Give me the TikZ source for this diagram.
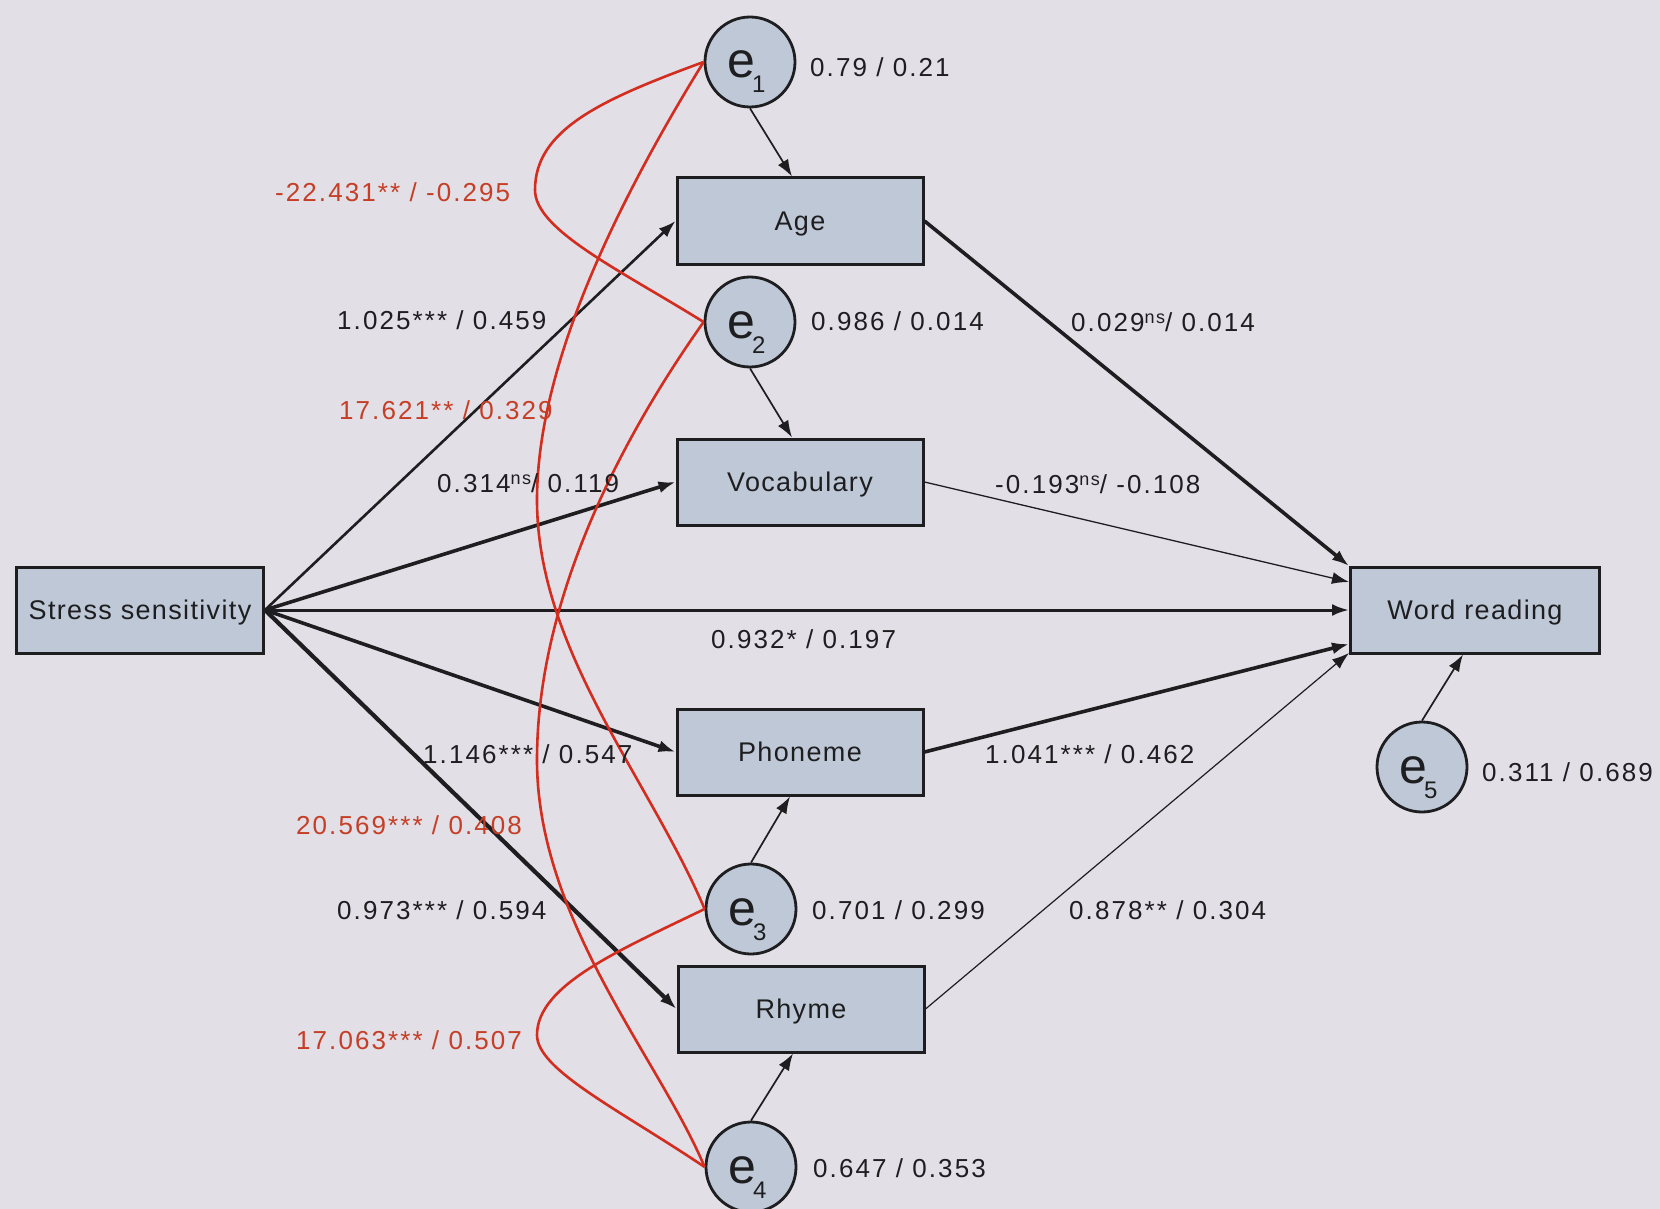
\documentclass[tikz,border=0pt]{standalone}
\usepackage{fontspec}
\setmainfont{Liberation Sans}[LetterSpace=5]
\newfontfamily\lblfont{Liberation Sans}[LetterSpace=8]
\usetikzlibrary{arrows.meta}
\definecolor{bg}{RGB}{226,223,231}
\definecolor{boxfill}{RGB}{190,200,214}
\definecolor{ink}{RGB}{30,30,32}
\definecolor{covred}{RGB}{210,45,30}
\definecolor{labred}{RGB}{198,62,38}
\newcommand\sps[1]{\raisebox{8pt}{\fontsize{18}{18}\selectfont #1}}
\newcommand\esub[1]{\kern-3pt\raisebox{-15pt}{\fontsize{24}{24}\selectfont #1}}
\begin{document}
\begin{tikzpicture}[x=1pt,y=-1pt,
  var/.style={draw=ink, line width=3pt, fill=boxfill, minimum width=246pt, minimum height=86pt, inner sep=0pt, text height=19pt, text depth=0pt, font=\fontsize{27}{30}\selectfont, text=ink},
  err/.style={draw=ink, line width=2.8pt, fill=boxfill, circle, minimum size=90pt, inner sep=0pt},
  etext/.style={anchor=base west, inner sep=0pt, text=ink, font=\fontsize{50}{50}\selectfont},
  lab/.style={anchor=west, inner sep=0pt, text height=18pt, text depth=0pt, text=ink, font=\lblfont\fontsize{26}{30}\selectfont},
  rlab/.style={lab, text=labred},
  reg/.style={draw=ink, -{Latex[length=17pt,width=12pt]}},
  cov/.style={draw=covred, line width=2.6pt},
]
\fill[bg] (0,0) rectangle (1660,1209);
\useasboundingbox (0,0) rectangle (1660,1209);

% observed variables
\node[var, minimum width=247pt] (ss) at (140,610) {Stress sensitivity};
\node[var] (age) at (800,221) {Age};
\node[var] (voc) at (800,482) {Vocabulary};
\node[var] (pho) at (800,752) {Phoneme};
\node[var] (rhy) at (801,1009) {Rhyme};
\node[var, minimum width=249pt] (wr) at (1475,610) {Word reading};

% error terms
\node[err] (e1) at (750,62) {};
\node[err] (e2) at (750,322) {};
\node[err] (e3) at (751,909) {};
\node[err] (e4) at (751,1167) {};
\node[err] (e5) at (1422,767) {};
\node[etext] (e1t) at ([xshift=-23pt,yshift=-16pt]e1.center) {e\esub{1}};
\node[etext] (e2t) at ([xshift=-23pt,yshift=-16pt]e2.center) {e\esub{2}};
\node[etext] (e3t) at ([xshift=-23pt,yshift=-16pt]e3.center) {e\esub{3}};
\node[etext] (e4t) at ([xshift=-23pt,yshift=-16pt]e4.center) {e\esub{4}};
\node[etext] (e5t) at ([xshift=-23pt,yshift=-16pt]e5.center) {e\esub{5}};

% regression paths
\draw[reg, line width=2.6pt] (ss.east) -- (age.west);
\draw[reg, line width=3.6pt] (ss.east) -- (voc.west);
\draw[reg, line width=3pt] (ss.east) -- (wr.west);
\draw[reg, line width=3.6pt] (ss.east) -- (pho.west);
\draw[reg, line width=4.2pt] (ss.east) -- (rhy.west);
\draw[reg, line width=3.6pt] (age.east) -- ([yshift=44pt]wr.west);
\draw[reg, line width=1.3pt] (voc.east) -- ([yshift=28pt]wr.west);
\draw[reg, line width=3.6pt] (pho.east) -- ([yshift=-34pt]wr.west);
\draw[reg, line width=1.2pt] (rhy.east) -- ([yshift=-43pt]wr.west);

% error paths
\draw[reg, line width=1.7pt] (e1.south) -- ([xshift=-8pt]age.north);
\draw[reg, line width=1.7pt] (e2.south) -- ([xshift=-8pt]voc.north);
\draw[reg, line width=1.7pt] (e3.north) -- ([xshift=-10pt]pho.south);
\draw[reg, line width=1.7pt] (e4.north) -- ([xshift=-8pt]rhy.south);
\draw[reg, line width=1.7pt] (e5.north) -- ([xshift=-12pt]wr.south);

% covariances
\draw[cov] (e1.west) .. controls (600,100) and (535,130) .. (535,190) .. controls (535,230) and (620,270) .. (e2.west);
\draw[cov] (e1.west) .. controls (600,230) and (537,380) .. (537,500) .. controls (537,650) and (650,780) .. (e3.west);
\draw[cov] (e2.west) .. controls (620,440) and (537,600) .. (537,760) .. controls (537,920) and (660,1060) .. (e4.west);
\draw[cov] (e3.west) .. controls (620,950) and (537,985) .. (537,1035) .. controls (537,1070) and (620,1110) .. (e4.west);

% variance labels
\node[lab] (v1) at (810,68) {0.79 / 0.21};
\node[lab] (v2) at (811,321) {0.986 / 0.014};
\node[lab] (v3) at (812,910) {0.701 / 0.299};
\node[lab] (v4) at (813,1168) {0.647 / 0.353};
\node[lab] (v5) at (1482,772) {0.311 / 0.689};

% path labels
\node[lab] (p1) at (337,320) {1.025*** / 0.459};
\node[lab] (p2) at (437,483) {0.314\sps{ns}/ 0.119};
\node[lab] (p3) at (711,639) {0.932* / 0.197};
\node[lab] (p4) at (423,754) {1.146*** / 0.547};
\node[lab] (p5) at (337,910) {0.973*** / 0.594};
\node[lab] (p6) at (1071,322) {0.029\sps{ns}/ 0.014};
\node[lab] (p7) at (995,484) {-0.193\sps{ns}/ -0.108};
\node[lab] (p8) at (985,754) {1.041*** / 0.462};
\node[lab] (p9) at (1069,910) {0.878** / 0.304};

% covariance labels
\node[rlab] (c1) at (275,193) {-22.431** / -0.295};
\node[rlab] (c2) at (339,410) {17.621** / 0.329};
\node[rlab] (c3) at (296,825) {20.569*** / 0.408};
\node[rlab] (c4) at (296,1040) {17.063*** / 0.507};
\end{tikzpicture}
\end{document}
